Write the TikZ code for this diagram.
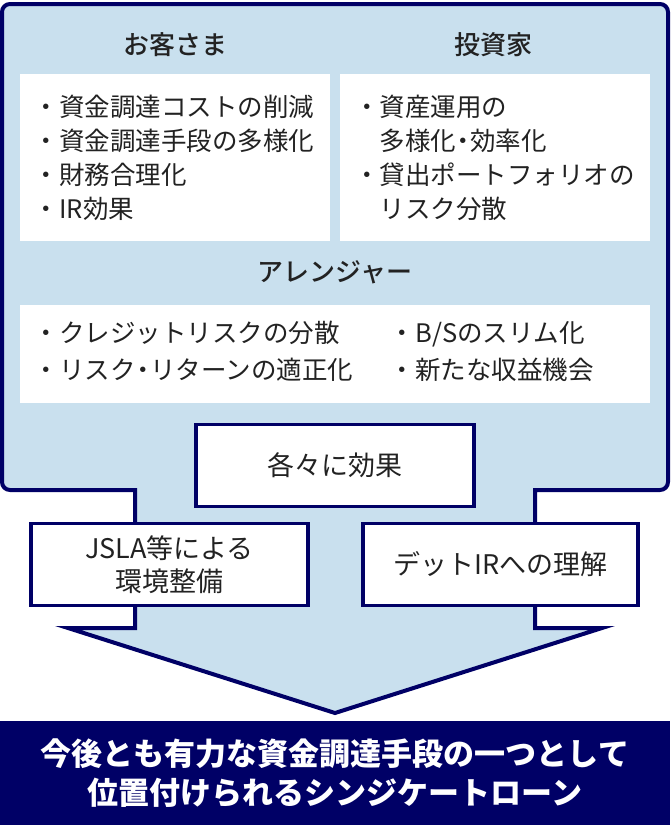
\documentclass[tikz,border=0pt]{standalone}
\usepackage{fontspec}
\setmainfont{Noto Sans CJK JP}
\newfontfamily\medfont{Noto Sans CJK JP Medium}
\usetikzlibrary{positioning}
\definecolor{navy}{RGB}{0,0,102}
\definecolor{paleblue}{RGB}{201,224,238}
\definecolor{ink}{RGB}{34,34,34}
\newcommand{\middot}{\kern-.22em・\kern-.22em}
\tikzset{
  whitebox/.style={fill=white,text=ink,align=left,inner xsep=14pt,inner ysep=0pt},
  framebox/.style={draw=navy,line width=3.5pt,fill=white,text=ink,align=center,
    font=\fontsize{27}{33}\selectfont},
  headline/.style={text=ink,font=\medfont\fontsize{26}{30}\selectfont}
}

\begin{document}
\begin{tikzpicture}[x=1pt,y=-1pt,font=\fontsize{25.5}{34}\selectfont]
  \useasboundingbox (0,0) rectangle (670,825);
  % light blue arrow with its two notches
  \draw[draw=navy,fill=paleblue,line width=4pt]
    (300,4) [rounded corners=8pt] -- (668,4) -- (668,490) -- (600,490)
    [sharp corners] -- (535,490) -- (535,628) -- (602,628) -- (335,713)
    -- (68,628) -- (135,628) -- (135,490) -- (70,490)
    [rounded corners=8pt] -- (2,490) -- (2,4) -- cycle;

  \node[headline] (guest) at (175,45) {お客さま};
  \node[headline] (investor) at (493,45) {投資家};
  \node[whitebox,text width=282pt,minimum height=167pt] (guestbox) at (175,157.5)
    {・資金調達コストの削減\\・資金調達手段の多様化\\・財務合理化\\・IR効果};
  \node[whitebox,text width=282pt,minimum height=167pt] (investorbox) at (495,157.5)
    {・資産運用の\\\hspace*{1em}多様化\middot 効率化\\・貸出ポートフォリオの\\\hspace*{1em}リスク分散};

  \node[headline] (arranger) at (335,272) {アレンジャー};
  \node[whitebox,inner xsep=14pt,text width=602pt,minimum height=98pt] (arrangerbox) at (335,354)
    {\begin{tabular}{@{}p{356pt}@{}l@{}}
       ・クレジットリスクの分散 & ・B/Sのスリム化\\[3pt]
       ・リスク\middot リターンの適正化 & ・新たな収益機会
     \end{tabular}};

  \node[framebox,minimum width=278pt,minimum height=82pt] (effect) at (335,465.5) {各々に効果};
  \node[framebox,minimum width=277pt,minimum height=82pt] (jsla) at (169.5,564.5) {JSLA等による\\環境整備};
  \node[framebox,minimum width=275pt,minimum height=82pt] (debtir) at (500.5,564.5) {デットIRへの理解};

  \node[fill=navy,text=white,align=center,minimum width=670pt,minimum height=104pt,
        font=\bfseries\fontsize{31}{39}\selectfont] (banner) at (335,773)
    {今後とも有力な資金調達手段の一つとして\\位置付けられるシンジケートローン};
\end{tikzpicture}
\end{document}
